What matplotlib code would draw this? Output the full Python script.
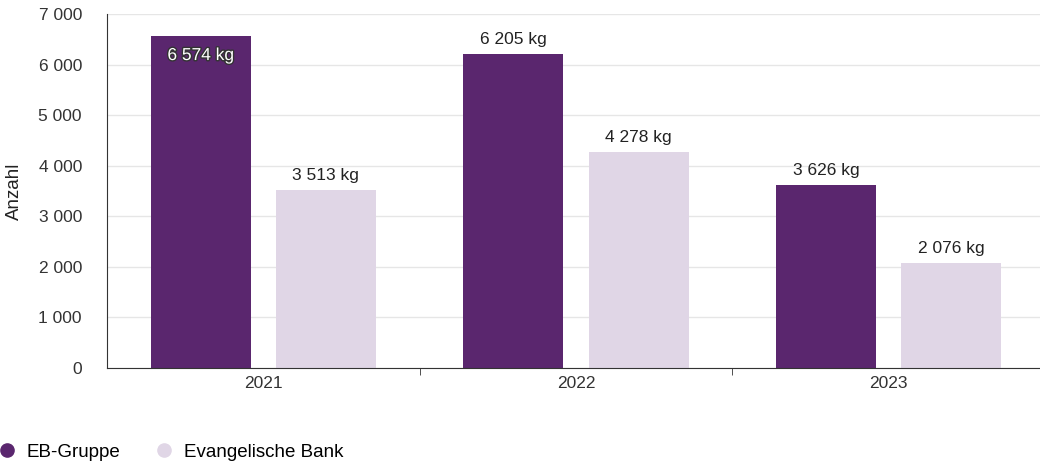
import matplotlib
matplotlib.use("Agg")
from matplotlib import pyplot as plt
from matplotlib import patheffects
from matplotlib.lines import Line2D
import numpy as np

plt.rcParams['font.family'] = ['Liberation Sans', 'DejaVu Sans']

years = ['2021', '2022', '2023']
series_names = ['EB-Gruppe', 'Evangelische Bank']
eb_gruppe = [6574, 6205, 3626]
ev_bank = [3513, 4278, 2076]
colors = ['#5a266e', '#e0d6e6']

def fmt(v):
    return '{:,}'.format(v).replace(',', ' ')

fig = plt.figure(figsize=(10.4, 4.65), dpi=100)
ax = fig.add_axes([107/1040, (465-368)/465, (1040-107)/1040, (368-14)/465])

x = np.arange(len(years))
w = 0.32
ax.bar(x - 0.2, eb_gruppe, w, color=colors[0], zorder=2)
ax.bar(x + 0.2, ev_bank, w, color=colors[1], zorder=2)

lab_fs = 12.5
# value labels, first one does not fit above so goes inside
for i, v in enumerate(eb_gruppe):
    if v > 6400:
        t = ax.annotate(fmt(v) + ' kg', (x[i] - 0.2, v), xytext=(0, -9),
                        textcoords='offset points', ha='center', va='top',
                        fontsize=lab_fs, color='white', zorder=3)
        t.set_path_effects([patheffects.withStroke(linewidth=2, foreground='#333333')])
    else:
        ax.annotate(fmt(v) + ' kg', (x[i] - 0.2, v), xytext=(0, 5),
                    textcoords='offset points', ha='center', va='bottom',
                    fontsize=lab_fs, color='#222222', zorder=3)
for i, v in enumerate(ev_bank):
    ax.annotate(fmt(v) + ' kg', (x[i] + 0.2, v), xytext=(0, 5),
                textcoords='offset points', ha='center', va='bottom',
                fontsize=lab_fs, color='#222222', zorder=3)

ax.set_ylim(0, 7000)
ax.set_xlim(-0.5, 2.484)
ax.set_yticks(np.arange(0, 7001, 1000))
ax.set_yticklabels([fmt(v) for v in range(0, 7001, 1000)], fontsize=12.5, color='#333333')
ax.yaxis.grid(True, color='#e6e6e6', linewidth=1, zorder=0)
ax.set_axisbelow(True)
ax.tick_params(axis='y', length=0, pad=18)

ax.set_xticks(x)
ax.set_xticklabels(years, fontsize=12.5, color='#333333')
ax.tick_params(axis='x', length=0, pad=6)
ax.set_xticks([0.5, 1.5], minor=True)
ax.tick_params(axis='x', which='minor', length=5, color='#333333')

for s in ['top', 'right']:
    ax.spines[s].set_visible(False)
ax.spines['left'].set_color('#333333')
ax.spines['bottom'].set_color('#333333')

ax.set_ylabel('Anzahl', fontsize=13.5, color='#222222')
ax.yaxis.set_label_coords(-84/933, 0.5)

handles = [Line2D([], [], marker='o', linestyle='', markersize=9.5, color=c) for c in colors]
fig.legend(handles, series_names, loc='center left', bbox_to_anchor=(0.0, 1 - 452/465),
           ncol=2, frameon=False, fontsize=13.5, handletextpad=0.74, columnspacing=1.95,
           handlelength=0.7, borderaxespad=0, borderpad=0)

fig.savefig('out.png', dpi=100)
